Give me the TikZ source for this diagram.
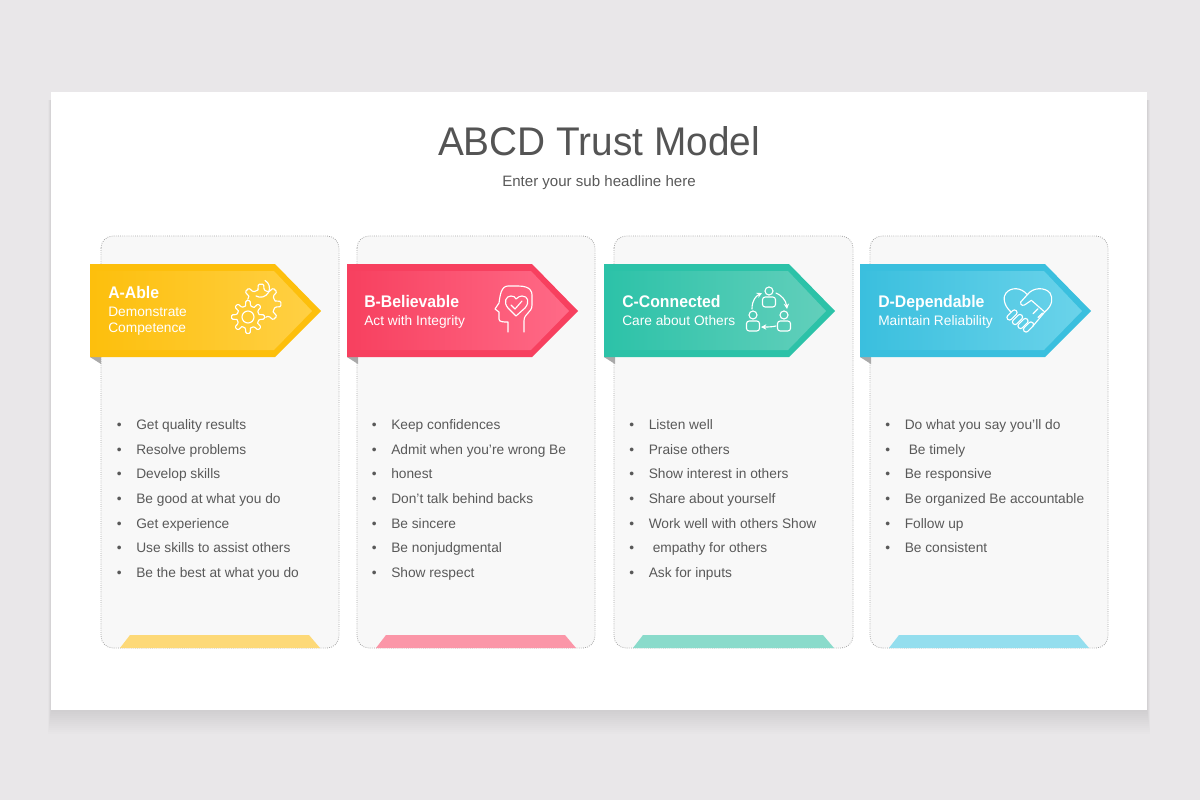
\documentclass[tikz,border=0pt]{standalone}
\usepackage{fontspec}
\setmainfont{Liberation Sans}
\usetikzlibrary{arrows.meta,calc}
\definecolor{pagebg}{HTML}{E9E7E9}
\definecolor{cardbg}{HTML}{F8F8F8}
\definecolor{cardline}{HTML}{A6A6A6}
\definecolor{ink}{HTML}{595959}
\definecolor{titleink}{HTML}{545454}
\definecolor{foldgray}{HTML}{A9A9A9}
\definecolor{aBase}{HTML}{FDBF0C}\definecolor{aLight}{HTML}{FFD044}\definecolor{aFoot}{HTML}{FDD978}
\definecolor{bBase}{HTML}{F7405F}\definecolor{bLight}{HTML}{FF6A87}\definecolor{bFoot}{HTML}{FB96A8}
\definecolor{cBase}{HTML}{2CC2A8}\definecolor{cLight}{HTML}{62CFBB}\definecolor{cFoot}{HTML}{8ADBCB}
\definecolor{dBase}{HTML}{3ABFDE}\definecolor{dLight}{HTML}{6AD3EA}\definecolor{dFoot}{HTML}{94DEEE}
\tikzset{
  cardbox/.style={fill=cardbg,draw=cardline,line width=.6pt,densely dotted,rounded corners=9pt},
  headtitle/.style={anchor=base west,text=white,font=\fontsize{12.6pt}{14pt}\selectfont\bfseries\addfontfeature{FakeStretch=0.94},inner sep=0pt},
  headsub/.style={anchor=base west,text=white,font=\fontsize{10.3pt}{12pt}\selectfont,inner sep=0pt},
  itemtext/.style={anchor=base west,text=ink,font=\fontsize{10.3pt}{12pt}\selectfont,inner sep=0pt},
  icon/.style={draw=white,line width=.85pt,line cap=round,line join=round},
  iconarrow/.style={icon,-{Stealth[length=4pt,width=4pt]}}
}
% \cardshape{name}{card left}{card width}{arrow left}{foot left}{foot right}{color prefix}
\newcommand{\cardshape}[7]{%
  \path[cardbox] (#2,236) rectangle ++(#3,412);
  \fill[foldgray] (#4,357) -- (#4+11,357) -- (#4+11,364) -- cycle;
  \fill[#7Foot] (#5,648) -- (#5+10,635) -- (#6-11,635) -- (#6,648) -- cycle;
  \fill[#7Base] (#4,264) -- (#4+185,264) -- (#4+231,311) -- (#4+185,357) -- (#4,357) -- cycle;
  \shade[left color=#7Base,right color=#7Light] (#4,271) -- (#4+184,271) -- (#4+222,311) -- (#4+184,350) -- (#4,350) -- cycle;
}
\newcommand{\itemlist}[3]{%
  \foreach \t [count=\i] in {#3} {
    \node[itemtext] (item-#1-\i) at (#2+19.5,{429.3+24.72*(\i-1)}) {\t};
    \node[itemtext] (bullet-#1-\i) at (#2,{429.3+24.72*(\i-1)}) {•};
  }
}
% one gear: centre, root radius, outer radius, teeth, rotation
\newcommand{\gearshape}[5]{%
  \pgfmathsetmacro{\st}{360/#4}
  \foreach \k in {1,...,#4} {
    \pgfmathsetmacro{\a}{#5+\k*\st}
    \draw[icon,rounded corners=.8pt] ($#1+(\a-.27*\st:#2)$) -- ($#1+(\a-.17*\st:#3)$) -- ($#1+(\a+.17*\st:#3)$) -- ($#1+(\a+.27*\st:#2)$) -- ($#1+(\a+.5*\st:#2-.6)$) -- ($#1+(\a+.73*\st:#2)$);
  }
}
\begin{document}
\begin{tikzpicture}[x=.75pt,y=-.75pt]
\useasboundingbox (0,0) rectangle (1200,800);
\fill[pagebg] (0,0) rectangle (1200,800);
\foreach \g in {2,4,...,24}
  \fill[black,opacity=.006] (51-\g/8,100) rectangle (1147+\g/8,710+\g);
\fill[white] (51,92) rectangle (1147,710);
\node[text=titleink,font=\fontsize{30pt}{36pt}\selectfont\addfontfeature{FakeStretch=0.97},inner sep=0pt] (title) at (599,141) {ABCD Trust Model};
\node[text=ink,font=\fontsize{11.3pt}{14pt}\selectfont,inner sep=0pt] (subtitle) at (599,183) {Enter your sub headline here};

\cardshape{a}{101}{238}{90}{120}{320}{a}
\cardshape{b}{357}{238}{347}{376}{576}{b}
\cardshape{c}{614}{239}{604}{633}{834}{c}
\cardshape{d}{870}{238}{860}{889}{1089}{d}

\node[headtitle] (a-title) at (108,298) {A-Able};
\node[headsub] (a-sub1) at (108,316) {Demonstrate};
\node[headsub] (a-sub2) at (108,332) {Competence};
\node[headtitle] (b-title) at (364,307) {B-Believable};
\node[headsub] (b-sub) at (364,325) {Act with Integrity};
\node[headtitle] (c-title) at (622,307) {C-Connected};
\node[headsub] (c-sub) at (622,325) {Care about Others};
\node[headtitle] (d-title) at (878,307) {D-Dependable};
\node[headsub] (d-sub) at (878,325) {Maintain Reliability};

% gears
\begin{scope}[even odd rule]
  \clip (225,275) rectangle (290,340) (248,317) circle (17.5);
  \gearshape{(261,304)}{14.5}{20}{8}{0}
  \draw[icon] (256,296) arc[start angle=120,end angle=-60,radius=9];
\end{scope}
\gearshape{(248,317)}{11.5}{16.5}{8}{0}
\draw[icon] (248,317) circle (6);

% head with heart
\draw[icon] (524,332) -- (524,321) .. controls (524,313) and (532,313) .. (532,305) -- (532,295) .. controls (532,292) and (531,286) .. (518,286) -- (508,286) .. controls (501,286) and (500,296) .. (499,303) -- (495,309) -- (499,312) -- (499,319) .. controls (499,322) and (503,322) .. (508,322) -- (508,332);
\draw[icon] (516,316) -- (508,308) .. controls (503,302) and (506,296) .. (511,296) .. controls (514,296) and (515,297) .. (516,299) .. controls (518,297) and (520,296) .. (522,296) .. controls (528,296) and (530,302) .. (525,308) -- cycle;
\draw[icon] (511,305) -- (515,309) -- (522,301);

% people
\foreach \cx/\cy/\nm in {769/291/p1,753/315/p2,784/315/p3} {
  \draw[icon] (\cx,\cy) circle (4);
  \draw[icon,rounded corners=2pt] (\cx-6.5,\cy+6) rectangle (\cx+6.5,\cy+16);
}
\draw[iconarrow] (752,309) .. controls (752,300) and (756,296) .. (762,293);
\draw[iconarrow] (776,293) .. controls (781,295) and (786,300) .. (787,309);
\draw[iconarrow] (776,326) .. controls (772,327) and (767,327) .. (761,327);

% handshake heart
\draw[icon] (1011,312) .. controls (1003,305) and (1003,296) .. (1006,293) .. controls (1011,287) and (1021,287) .. (1027.3,294.7)
  .. controls (1033,287) and (1045,287) .. (1050,293) .. controls (1053,298) and (1053,305) .. (1044.7,312)
  -- (1033,326);
\draw[icon] (1027.3,294.7) -- (1020.7,302) .. controls (1020,306) and (1024,306) .. (1026,304) -- (1031.3,300.3) -- (1044.7,312);
\draw[icon] (1033,313.7) -- (1038,308.7) (1038,317.5) -- (1042.5,313);
\foreach \cx/\cy in {1012/315,1017.5/319.5,1023/323.5,1028.5/327}
  \draw[icon,rounded corners=1.8pt,rotate around={45:(\cx,\cy)}] (\cx-6,\cy-2.6) rectangle (\cx+6,\cy+2.6);

\itemlist{a}{116.5}{Get quality results,Resolve problems,Develop skills,Be good at what you do,Get experience,Use skills to assist others,Be the best at what you do}
\itemlist{b}{371.5}{Keep confidences,Admit when you're wrong Be,honest,Don't talk behind backs,Be sincere,Be nonjudgmental,Show respect}
\itemlist{c}{629}{Listen well,Praise others,Show interest in others,Share about yourself,Work well with others Show,\hspace*{3pt}empathy for others,Ask for inputs}
\itemlist{d}{885}{Do what you say you'll do,\hspace*{3pt}Be timely,Be responsive,Be organized Be accountable,Follow up,Be consistent}
\end{tikzpicture}
\end{document}
